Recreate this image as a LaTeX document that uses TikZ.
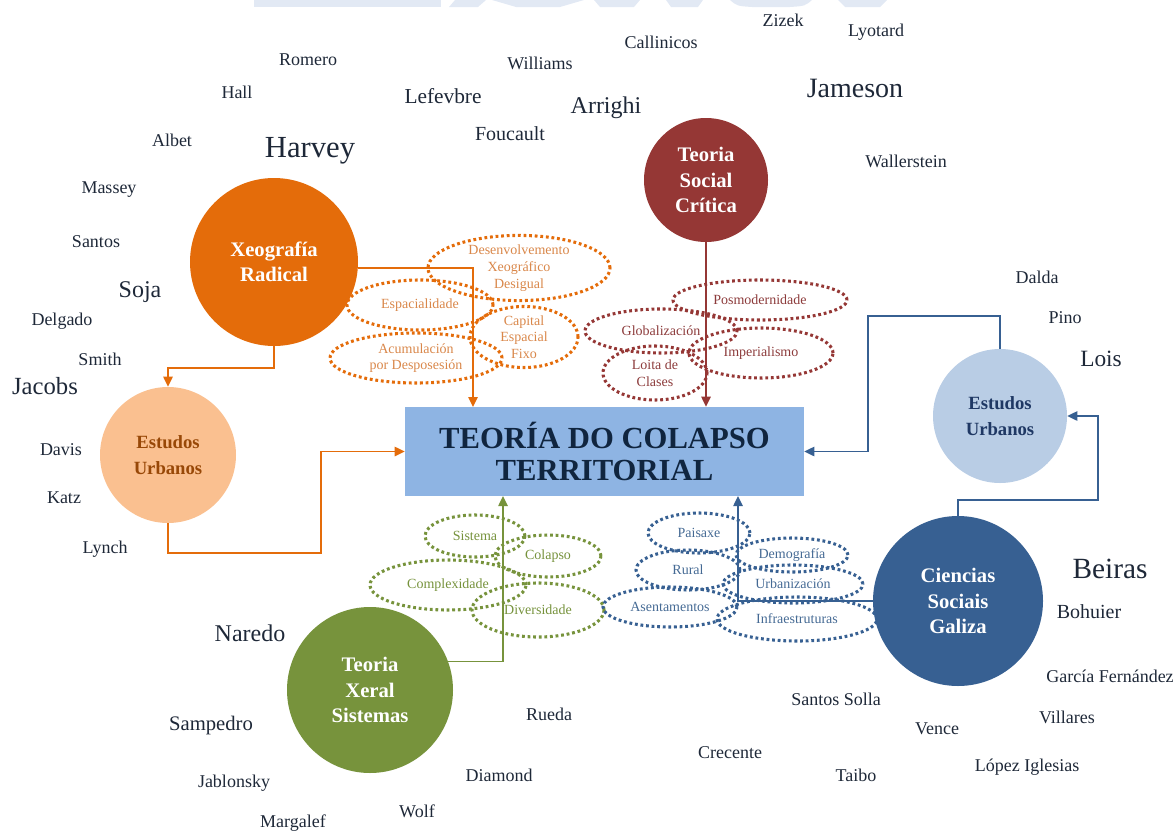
\documentclass[tikz,border=0pt]{standalone}
\usepackage{fontspec}
\setmainfont{Liberation Serif}
\usetikzlibrary{shapes.geometric,arrows.meta}
\definecolor{cOr}{HTML}{E46C0A}
\definecolor{cOrT}{HTML}{D9874A}
\definecolor{cPeach}{HTML}{FAC090}
\definecolor{cPeachT}{HTML}{984807}
\definecolor{cRed}{HTML}{953735}
\definecolor{cRedT}{HTML}{8C3B3B}
\definecolor{cLB}{HTML}{B9CDE5}
\definecolor{cNavy}{HTML}{1F3864}
\definecolor{cBlue}{HTML}{376092}
\definecolor{cBlueT}{HTML}{456A94}
\definecolor{cGreen}{HTML}{77933C}
\definecolor{cGreenT}{HTML}{76923C}
\definecolor{cRect}{HTML}{8EB4E3}
\definecolor{cTitle}{HTML}{10253F}
\definecolor{cName}{HTML}{1E2838}
\definecolor{cWm}{HTML}{E2E9F4}
\tikzset{
  hub/.style={circle, inner sep=0pt, align=center, text=white,
    font=\fontsize{15.5}{19}\selectfont\bfseries},
  dots/.style={ellipse, draw, line width=2.3pt, dash pattern=on 2.1pt off 2.1pt,
    inner sep=0pt, align=center, font=\fontsize{10.5}{12.5}\selectfont},
  person/.style={text=cName, inner sep=0pt, font=\fontsize{13.5}{15}\selectfont},
  link/.style={line width=1.1pt, -{Triangle[length=7.5pt,width=7pt]}}
}
\begin{document}
\begin{tikzpicture}[x=0.75pt,y=-0.75pt]
\useasboundingbox (0,0) rectangle (1174,832);
% faint watermark at top edge
\fill[cWm] (254,0) rectangle (441,7);
\fill[cWm] (455,0) -- (486,0) -- (478,7) -- (449,7) -- cycle;
\fill[cWm] (492,0) -- (584,0) -- (560,7) -- (516,7) -- cycle;
\fill[cWm] (594,0) -- (640,0) -- (634,7) -- (600,7) -- cycle;
\fill[cWm] (666,0) -- (703,0) -- (698,7) -- (671,7) -- cycle;
\fill[cWm] (730,0) -- (812,0) .. controls (805,6) .. (790,7) -- (752,7) .. controls (737,6) .. (730,0) -- cycle;
\fill[cWm] (838,0) -- (887,0) -- (880,7) -- (845,7) -- cycle;

% central box
\node[fill=cRect, minimum width=299.25pt, minimum height=66.75pt, inner sep=0pt,
  align=center, text=cTitle, font=\fontsize{23}{24}\selectfont\bfseries]
  (title) at (604.5,451.5) {TEORÍA DO COLAPSO\\TERRITORIAL};

% orange ellipses
\begin{scope}[every node/.append style={dots, draw=cOr, text=cOrT}]
\node[minimum width=136.5pt, minimum height=42pt] (e1) at (519,268) {Desenvolvemento\\Xeográfico\\Desigual};
\node[minimum width=109.5pt, minimum height=37.5pt] (e2) at (420,305) {Espacialidade};
\node[minimum width=81pt, minimum height=45pt] (e3) at (524,337) {Capital\\Espacial\\Fixo};
\node[minimum width=129pt, minimum height=37.5pt] (e4) at (416,358) {Acumulación\\por Desposesión};
\end{scope}
% red ellipses
\begin{scope}[every node/.append style={dots, draw=cRed, text=cRedT}]
\node[minimum width=130.5pt, minimum height=30pt] (r1) at (760,300) {Posmodernidade};
\node[minimum width=114pt, minimum height=33pt] (r2) at (661,331) {Globalización};
\node[minimum width=108pt, minimum height=37.5pt] (r3) at (761,353) {Imperialismo};
\node[minimum width=78pt, minimum height=40.5pt] (r4) at (655,373) {Loita de\\Clases};
\end{scope}
% green ellipses
\begin{scope}[every node/.append style={dots, draw=cGreen, text=cGreenT}]
\node[minimum width=75pt, minimum height=31.5pt] (g1) at (475,536) {Sistema};
\node[minimum width=79.5pt, minimum height=31.5pt] (g2) at (548,556) {Colapso};
\node[minimum width=117pt, minimum height=37.5pt] (g3) at (448,585) {Complexidade};
\node[minimum width=99pt, minimum height=40.5pt] (g4) at (538,610) {Diversidade};
\end{scope}
% blue ellipses
\begin{scope}[every node/.append style={dots, draw=cBlue, text=cBlueT}]
\node[minimum width=76.5pt, minimum height=30pt] (b1) at (699,533) {Paisaxe};
\node[minimum width=84pt, minimum height=25.5pt] (b2) at (792,555) {Demografía};
\node[minimum width=78pt, minimum height=30pt] (b3) at (688,570) {Rural};
\node[minimum width=105pt, minimum height=28.5pt] (b4) at (793,584) {Urbanización};
\node[minimum width=100.5pt, minimum height=30pt] (b5) at (670,607) {Asentamentos};
\node[minimum width=120pt, minimum height=33pt] (b6) at (797,619) {Infraestruturas};
\end{scope}

% hubs
\node[hub, fill=cOr, minimum size=126pt] (xr) at (274,262) {Xeografía\\Radical};
\node[hub, fill=cRed, minimum size=93pt] (tsc) at (706,180) {Teoria\\Social\\Crítica};
\node[hub, fill=cPeach, text=cPeachT, minimum size=102pt, font=\fontsize{14}{19}\selectfont\bfseries] (eul) at (168,455) {Estudos\\Urbanos};
\node[hub, fill=cLB, text=cNavy, minimum size=100.5pt, font=\fontsize{14}{19}\selectfont\bfseries] (eur) at (1000,416) {Estudos\\Urbanos};
\node[hub, fill=cBlue, minimum size=127.5pt] (csg) at (958,601) {Ciencias\\Sociais\\Galiza};
\node[hub, fill=cGreen, minimum size=124.5pt] (txs) at (370,690) {Teoria\\Xeral\\Sistemas};

% connector bends and ends
\coordinate (t1) at (473,407);
\coordinate (k1) at (274,368);
\coordinate (k2) at (321,553);
\coordinate (k3) at (868,316);
\coordinate (k4) at (1098,500);
\coordinate (t2) at (738,496);
\coordinate (t3) at (503,496);

\draw[link, cOr] (xr.-4) -| (t1);
\draw[link, cOr] (xr.south) -- (k1) -| (eul.north);
\draw[link, cOr] (eul.south) |- (k2) |- (title.west);
\draw[link, cRed] (tsc.south) -- (tsc.south |- title.north);
\draw[link, cBlue] (eur.north) |- (k3) |- (title.east);
\draw[link, cBlue] (csg.north) |- (k4) |- (eur.east);
\draw[link, cBlue] (csg.west) -| (t2);
\draw[link, cGreen] (txs.20) -| (t3);

% names
\node[person] (n1) at (308,60) {Romero};
\node[person] (n2) at (237,92) {Hall};
\node[person] (n3) at (172,140) {Albet};
\node[person] (n4) at (109,190) {Massey};
\node[person] (n5) at (96,242) {Santos};
\node[person, font=\fontsize{18}{20}\selectfont] (n6) at (140,292) {Soja};
\node[person] (n7) at (62,321) {Delgado};
\node[person] (n8) at (100,359) {Smith};
\node[person, font=\fontsize{18.5}{20}\selectfont] (n9) at (45,386) {Jacobs};
\node[person] (n10) at (61,450) {Davis};
\node[person] (n11) at (64,498) {Katz};
\node[person] (n12) at (105,549) {Lynch};
\node[person, font=\fontsize{23}{25}\selectfont] (n13) at (310,151) {Harvey};
\node[person, font=\fontsize{16}{18}\selectfont] (n14) at (443,96) {Lefevbre};
\node[person] (n15) at (540,63) {Williams};
\node[person, font=\fontsize{15}{17}\selectfont] (n16) at (510,134) {Foucault};
\node[person, font=\fontsize{18}{20}\selectfont] (n17) at (606,108) {Arrighi};
\node[person] (n18) at (661,42) {Callinicos};
\node[person] (n19) at (783,20) {Zizek};
\node[person] (n20) at (876,32) {Lyotard};
\node[person, font=\fontsize{21}{23}\selectfont] (n21) at (855,88) {Jameson};
\node[person] (n22) at (906,161) {Wallerstein};
\node[person] (n23) at (1037,277) {Dalda};
\node[person] (n24) at (1065,318) {Pino};
\node[person, font=\fontsize{17.5}{19}\selectfont] (n25) at (1101,359) {Lois};
\node[person, font=\fontsize{22}{24}\selectfont] (n26) at (1110,569) {Beiras};
\node[person, font=\fontsize{15}{17}\selectfont] (n27) at (1089,612) {Bohuier};
\node[person] (n28) at (1110,676) {García Fernández};
\node[person] (n29) at (1067,717) {Villares};
\node[person] (n30) at (937,729) {Vence};
\node[person] (n31) at (1027,767) {López Iglesias};
\node[person] (n32) at (856,775) {Taibo};
\node[person] (n33) at (836,699) {Santos Solla};
\node[person] (n34) at (730,753) {Crecente};
\node[person, font=\fontsize{18}{20}\selectfont] (n35) at (250,633) {Naredo};
\node[person, font=\fontsize{15.5}{17}\selectfont] (n36) at (211,726) {Sampedro};
\node[person] (n37) at (234,783) {Jablonsky};
\node[person] (n38) at (499,775) {Diamond};
\node[person] (n39) at (417,811) {Wolf};
\node[person] (n40) at (293,823) {Margalef};
\node[person] (n41) at (549,714) {Rueda};
\end{tikzpicture}
\end{document}
